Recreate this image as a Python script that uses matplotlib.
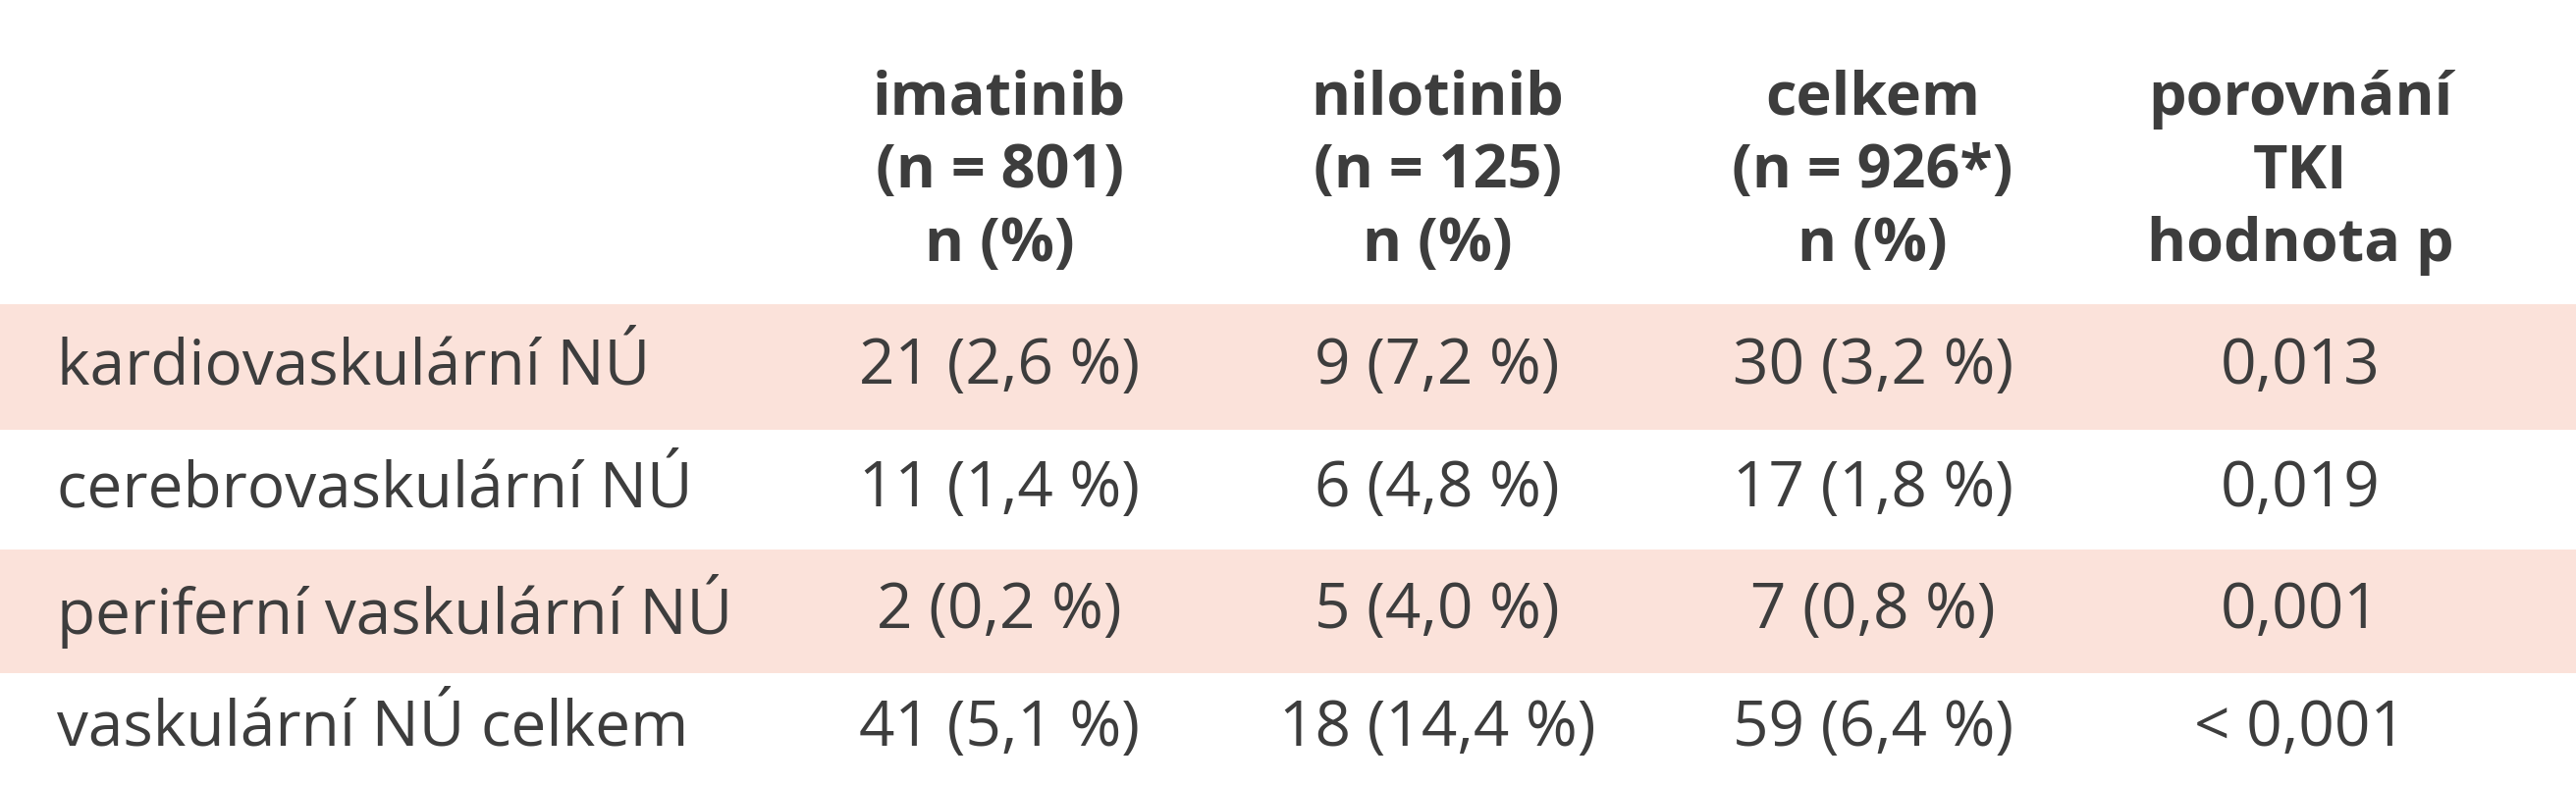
import matplotlib.pyplot as plt
from matplotlib.patches import Rectangle

plt.rcParams['font.family'] = ['Open Sans', 'DejaVu Sans']

headers = [
    "imatinib\n(n = 801)\nn (%)",
    "nilotinib\n(n = 125)\nn (%)",
    "celkem\n(n = 926*)\nn (%)",
    "porovnání\nTKI\nhodnota p",
]
row_labels = ["kardiovaskulární NÚ", "cerebrovaskulární NÚ",
              "periferní vaskulární NÚ", "vaskulární NÚ celkem"]
imatinib = ["21 (2,6 %)", "11 (1,4 %)", "2 (0,2 %)", "41 (5,1 %)"]
nilotinib = ["9 (7,2 %)", "6 (4,8 %)", "5 (4,0 %)", "18 (14,4 %)"]
celkem = ["30 (3,2 %)", "17 (1,8 %)", "7 (0,8 %)", "59 (6,4 %)"]
p_values = ["0,013", "0,019", "0,001", "< 0,001"]

col_x = [0.388, 0.558, 0.727, 0.893]
row_edges = [0.613, 0.452, 0.30, 0.143, 0.0]  # top->bottom in axes coords
txt = "#3d3d3d"

fig = plt.figure(figsize=(26.24, 8), dpi=100)
ax = fig.add_axes([0, 0, 1, 1])
ax.set_xlim(0, 1)
ax.set_ylim(0, 1)
ax.axis("off")

# header
for x, h in zip(col_x, headers):
    ax.text(x, 0.78, h, ha="center", va="center", fontsize=44,
            fontweight="bold", color=txt, linespacing=1.3)

columns = [imatinib, nilotinib, celkem, p_values]
for i, label in enumerate(row_labels):
    top, bot = row_edges[i], row_edges[i + 1]
    if i % 2 == 0:
        ax.add_patch(Rectangle((0, bot), 1, top - bot, color="#fbe2da", lw=0))
    yc = (top + bot) / 2
    ax.text(0.022, yc, label, ha="left", va="center", fontsize=46, color=txt)
    for x, col in zip(col_x, columns):
        ax.text(x, yc, col[i], ha="center", va="center", fontsize=46, color=txt)

fig.savefig("out.png", dpi=100)
